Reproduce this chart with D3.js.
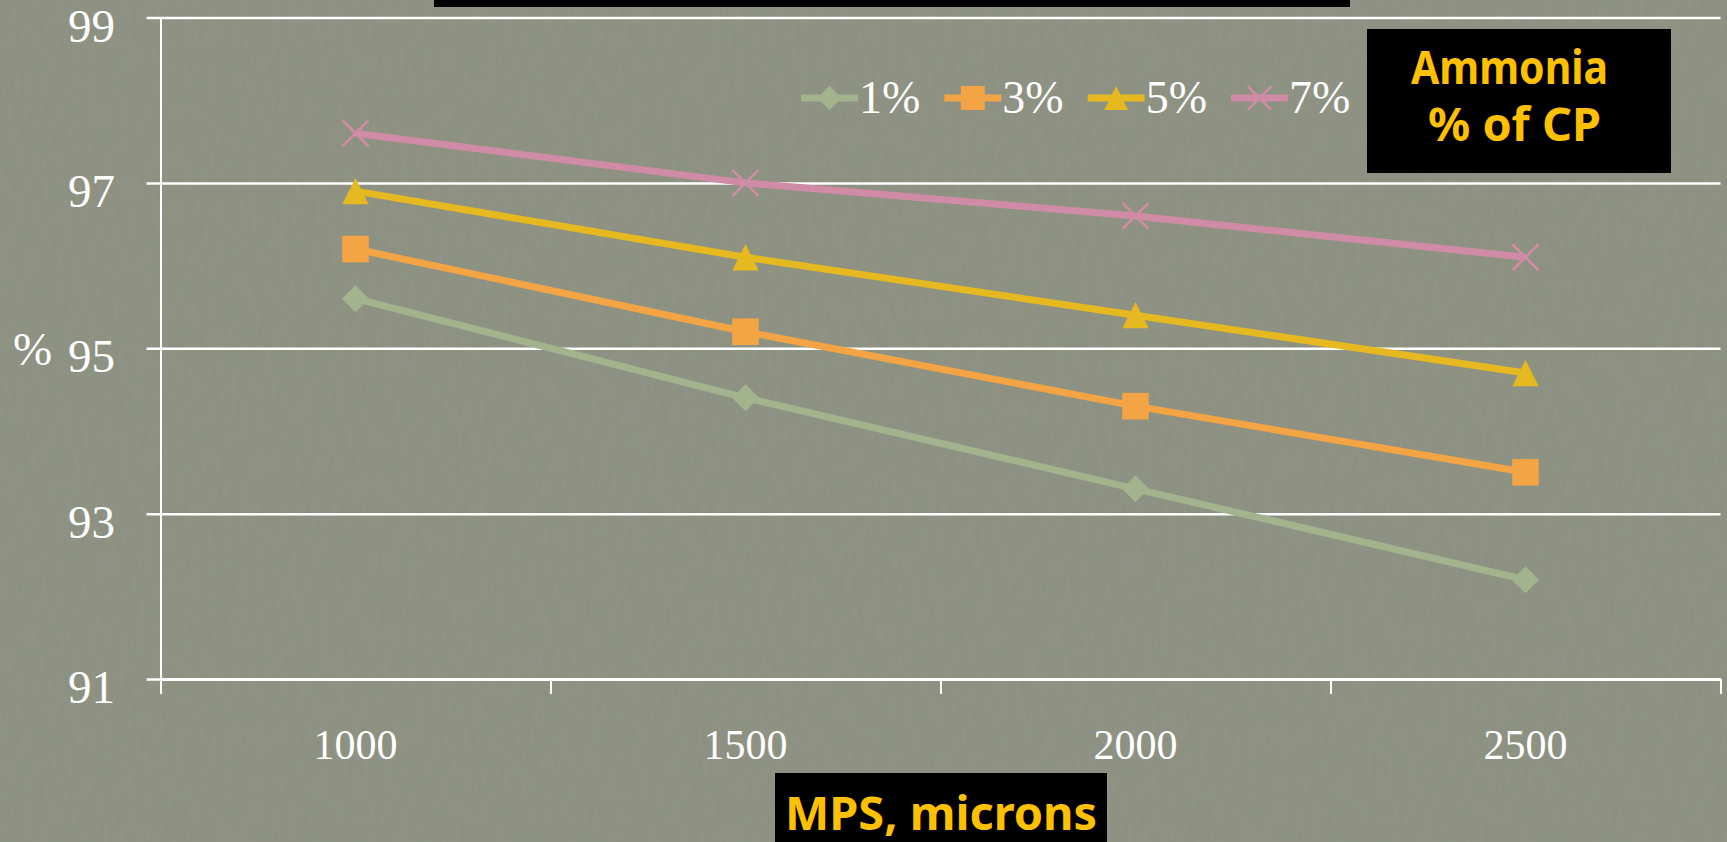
<!DOCTYPE html>
<html>
<head>
<meta charset="utf-8">
<script src="https://cdn.jsdelivr.net/npm/d3@7"></script>
<style>
  body { margin: 0; overflow: hidden; background: #878b7d; }
  .serif { font-family: 'Liberation Serif', 'DejaVu Serif', serif; fill: #fff; }
  .boxlabel { font-family: 'Noto Sans', 'DejaVu Sans', sans-serif; font-weight: bold; fill: #ffc000; }
</style>
</head>
<body>
<div class="chart"></div>
<script>
// Data
const categories = ['1000', '1500', '2000', '2500'];
const seriesNames = ['1%', '3%', '5%', '7%'];
const values1 = [95.6, 94.4, 93.3, 92.2];
const values3 = [96.2, 95.2, 94.3, 93.5];
const values5 = [96.9, 96.1, 95.4, 94.7];
const values7 = [97.6, 97.0, 96.6, 96.1];
const yTicks = [91, 93, 95, 97, 99];

// marker shapes (Excel style)
const diamond = { draw(ctx, r) { ctx.moveTo(0, -r); ctx.lineTo(r, 0); ctx.lineTo(0, r); ctx.lineTo(-r, 0); ctx.closePath(); } };
const square = { draw(ctx, r) { ctx.rect(-r, -r, 2 * r, 2 * r); } };
const triangle = { draw(ctx, r) { ctx.moveTo(0, -r); ctx.lineTo(r, r); ctx.lineTo(-r, r); ctx.closePath(); } };
const cross = { draw(ctx, r) { ctx.moveTo(-r, -r); ctx.lineTo(r, r); ctx.moveTo(r, -r); ctx.lineTo(-r, r); } };

const series = [
  { name: seriesNames[0], color: '#a3b38d', values: values1, shape: diamond, r: 13.5, filled: true },
  { name: seriesNames[1], color: '#f3a444', values: values3, shape: square, r: 13.3, filled: true },
  { name: seriesNames[2], color: '#e6b921', values: values5, shape: triangle, r: 13.2, filled: true },
  { name: seriesNames[3], color: '#d08ca6', values: values7, shape: cross, r: 13, filled: false }
];

const W = 1727, H = 842;
const svg = d3.select('.chart').append('svg').attr('width', W).attr('height', H);

// background + grain texture
const defs = svg.append('defs');
const grain = defs.append('filter').attr('id', 'grain').attr('x', 0).attr('y', 0).attr('width', 1).attr('height', 1);
grain.append('feTurbulence').attr('type', 'fractalNoise').attr('baseFrequency', '0.25 0.04').attr('numOctaves', 3).attr('seed', 4);
grain.append('feColorMatrix').attr('type', 'matrix')
  .attr('values', '0 0 0 0 0.3  0 0 0 0 0.31  0 0 0 0 0.27  0.6 0 0 0 -0.2');
svg.append('rect').attr('width', W).attr('height', H).attr('fill', '#8d9181');
svg.append('rect').attr('width', W).attr('height', H).attr('filter', 'url(#grain)');

// plot area
const plot = { left: 160.5, right: 1720.5, top: 17.5, bottom: 679 };

const yScale = d3.scaleLinear().domain([91, 99]).range([plot.bottom, plot.top]);
const xBand = d3.scaleBand().domain(categories).range([plot.left, plot.right]).padding(0);
const xIdx = d3.scaleLinear().domain([0, categories.length]).range([plot.left, plot.right]);
const xPos = c => xBand(c) + xBand.bandwidth() / 2;

// gridlines + y axis
const yAxis = d3.axisLeft(yScale)
  .tickValues(yTicks)
  .tickSizeInner(-(plot.right - plot.left))
  .tickSizeOuter(0)
  .tickFormat('');
const yAxisDraw = svg.append('g').attr('transform', `translate(${plot.left},0)`).call(yAxis);
yAxisDraw.selectAll('.tick line').attr('x1', -14).attr('stroke', '#fff').attr('stroke-width', 2.5);
yAxisDraw.select('.domain').attr('stroke', '#fff').attr('stroke-width', 2);

// y tick labels
svg.append('g').selectAll('text').data(yTicks).enter().append('text')
  .attr('class', 'serif')
  .attr('x', 115)
  .attr('y', d => yScale(d) + 24)
  .attr('text-anchor', 'end')
  .style('font-size', '47px')
  .text(d => d);

// y title
svg.append('text').attr('class', 'serif')
  .attr('x', 13).attr('y', yScale(95) + 17)
  .style('font-size', '47px')
  .text('%');

// x axis: boundary ticks
const xAxis = d3.axisBottom(xIdx)
  .tickValues(d3.range(categories.length + 1))
  .tickSizeInner(15)
  .tickSizeOuter(0)
  .tickFormat('');
const xAxisDraw = svg.append('g').attr('transform', `translate(0,${plot.bottom})`).call(xAxis);
xAxisDraw.selectAll('.tick line').attr('stroke', '#fff').attr('stroke-width', 2);
xAxisDraw.select('.domain').attr('stroke', '#fff').attr('stroke-width', 3);

// x labels at band centers
svg.append('g').selectAll('text').data(categories).enter().append('text')
  .attr('class', 'serif')
  .attr('x', d => xPos(d))
  .attr('y', 759)
  .attr('text-anchor', 'middle')
  .style('font-size', '42px')
  .style('font-variant-numeric', 'oldstyle-nums')
  .text(d => d);

// lines
const lineGen = d3.line().x((d, i) => xPos(categories[i])).y(d => yScale(d));
const chartGroup = svg.append('g').attr('class', 'line-chart');
chartGroup.selectAll('.line-series').data(series).enter()
  .append('path')
  .attr('d', d => lineGen(d.values))
  .attr('fill', 'none')
  .attr('stroke', d => d.color)
  .attr('stroke-width', 7)
  .attr('stroke-linejoin', 'round');

// markers
function drawMarker(sel, s) {
  sel.append('path')
    .attr('d', d3.symbol().type(s.shape).size(s.r))
    .attr('fill', s.filled ? s.color : 'none')
    .attr('stroke', s.filled ? 'none' : s.color)
    .attr('stroke-width', s.filled ? 0 : 2.6);
}
series.forEach(s => {
  s.values.forEach((v, i) => {
    const g = chartGroup.append('g').attr('transform', `translate(${xPos(categories[i])},${yScale(v)})`);
    drawMarker(g, s);
  });
});

// legend
const legend = svg.append('g').attr('class', 'legend');
let lx = 801;
const legendY = 98;
series.forEach(s => {
  const item = legend.append('g').attr('transform', `translate(${lx},${legendY})`);
  item.append('line').attr('x1', 0).attr('x2', 57)
    .attr('stroke', s.color).attr('stroke-width', 7);
  const m = item.append('g').attr('transform', 'translate(28.5,0)');
  drawMarker(m, Object.assign({}, s, { r: s.r * 0.9 }));
  const t = item.append('text').attr('class', 'serif')
    .attr('x', 58).attr('y', 15)
    .style('font-size', '46px')
    .text(s.name);
  lx += 58 + t.node().getComputedTextLength() + 24;
});

// top title bar (mostly off-canvas)
svg.append('rect').attr('x', 434).attr('y', 0).attr('width', 916).attr('height', 7).attr('fill', '#000');

// Ammonia box
svg.append('rect').attr('x', 1367).attr('y', 29).attr('width', 304).attr('height', 144).attr('fill', '#000');
svg.append('text').attr('class', 'boxlabel')
  .attr('x', 1411).attr('y', 84)
  .attr('textLength', 197).attr('lengthAdjust', 'spacingAndGlyphs')
  .style('font-size', '46px')
  .text('Ammonia');
svg.append('text').attr('class', 'boxlabel')
  .attr('x', 1428).attr('y', 141)
  .attr('textLength', 173).attr('lengthAdjust', 'spacingAndGlyphs')
  .style('font-size', '46px')
  .text('% of CP');

// x title box
svg.append('rect').attr('x', 775).attr('y', 773).attr('width', 332).attr('height', 80).attr('fill', '#000');
svg.append('text').attr('class', 'boxlabel')
  .attr('x', 785).attr('y', 830)
  .attr('textLength', 312).attr('lengthAdjust', 'spacingAndGlyphs')
  .style('font-size', '46px')
  .text('MPS, microns');
</script>
</body>
</html>
